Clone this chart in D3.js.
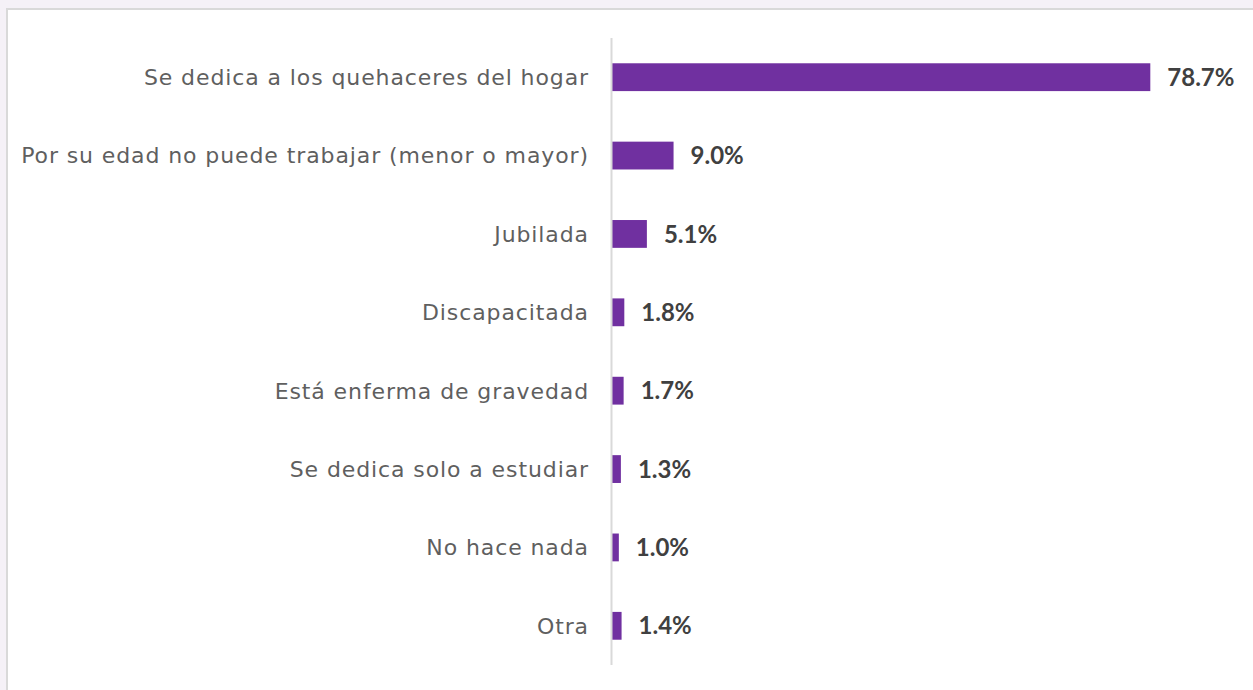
<!DOCTYPE html>
<html lang="es">
<head>
  <meta charset="UTF-8">
  <title>Razones para no trabajar</title>
  <style>
    body {
      margin: 0;
      background-color: #f5f1f7;
      overflow: hidden;
    }
    #chart {
      position: absolute;
      left: 6px;
      top: 8px;
      width: 1260px;
      height: 700px;
      background: #fff;
      border: 2px solid #d9d9d9;
      box-sizing: border-box;
    }
  </style>
  <script src="https://d3js.org/d3.v7.min.js"></script>
</head>
<body>
  <div id="chart"></div>

  <script>
    // Data
    const categories = [
      'Se dedica a los quehaceres del hogar',
      'Por su edad no puede trabajar (menor o mayor)',
      'Jubilada',
      'Discapacitada',
      'Está enferma de gravedad',
      'Se dedica solo a estudiar',
      'No hace nada',
      'Otra'
    ];
    const values = [78.7, 9.0, 5.1, 1.8, 1.7, 1.3, 1.0, 1.4];

    const data = categories.map((c, i) => ({ cat: c, val: values[i] }));

    const svg = d3.select('#chart').append('svg')
      .attr('width', 1253)
      .attr('height', 690)
      .style('position', 'absolute')
      .style('left', '-8px')
      .style('top', '-10px');

    const axisX = 611.5;

    const x = d3.scaleLinear()
      .domain([0, 90])
      .range([612, 612 + 6.84 * 90]);

    const y = d3.scaleBand()
      .domain(categories)
      .range([38, 665])
      .paddingInner(0.645)
      .paddingOuter(0.3225);

    // Bars
    svg.append('g')
      .selectAll('rect')
      .data(data)
      .join('rect')
      .attr('x', x(0))
      .attr('y', d => y(d.cat))
      .attr('width', d => x(d.val) - x(0))
      .attr('height', y.bandwidth())
      .attr('fill', '#7030a0');

    // Vertical axis line
    svg.append('line')
      .attr('x1', axisX).attr('x2', axisX)
      .attr('y1', 38).attr('y2', 665)
      .attr('stroke', '#d9d9d9')
      .attr('stroke-width', 2);

    // Category labels (a bit of letter-spacing to get close to the wide Century Gothic look)
    svg.append('g')
      .selectAll('text')
      .data(data)
      .join('text')
      .attr('x', 589)
      .attr('y', d => y(d.cat) + y.bandwidth() / 2)
      .attr('dy', '0.36em')
      .attr('text-anchor', 'end')
      .attr('font-family', '"DejaVu Sans", sans-serif')
      .attr('font-size', '22px')
      .attr('letter-spacing', '0.9px')
      .attr('fill', '#5f5f5f')
      .text(d => d.cat);

    // Value labels
    svg.append('g')
      .selectAll('text')
      .data(data)
      .join('text')
      .attr('x', d => x(d.val) + 17)
      .attr('y', d => y(d.cat) + y.bandwidth() / 2)
      .attr('dy', '0.36em')
      .attr('font-family', 'Lato, sans-serif')
      .attr('font-weight', 'bold')
      .attr('font-size', '24px')
      .attr('fill', '#404040')
      .text(d => d.val.toFixed(1) + '%');
  </script>
</body>
</html>
